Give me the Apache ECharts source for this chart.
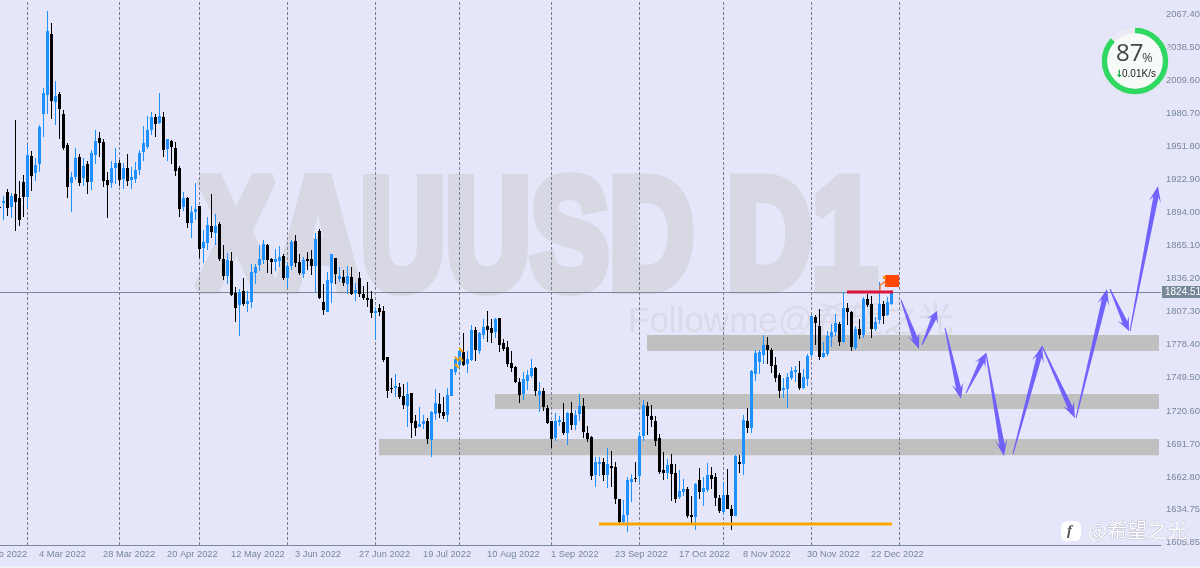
<!DOCTYPE html>
<html><head><meta charset="utf-8">
<style>html,body{margin:0;padding:0;background:#e6e6fa;overflow:hidden}#c{width:1200px;height:568px}</style>
<script src="https://cdn.jsdelivr.net/npm/echarts@6/dist/echarts.min.js"></script>
</head><body><div id="c"></div>
<script>
const opens=[1898.6,
1902.3,1911.9,1898.8,1910.1,1906.6,1920.6,1907.5,1943.3,1928.5,1936.3,
1980.0,1996.6,2049.9,1990.5,1997.5,1980.0,1952.9,1919.8,1925.0,1942.5,
1924.1,1936.3,1920.6,1944.2,1959.1,1955.6,1922.4,1919.8,1932.9,1937.2,
1923.2,1932.9,1922.4,1923.2,1931.1,1946.8,1951.2,1966.1,1977.4,1972.2,
1977.4,1949.5,1956.5,1950.3,1932.9,1898.8,1906.6,1884.8,1894.4,1899.6,
1863.0,1867.3,1882.2,1876.1,1883.9,1853.4,1838.5,1851.6,1823.6,1813.2,
1825.4,1814.0,1815.8,1841.1,1848.1,1852.5,1865.6,1853.3,1850.7,1851.6,
1856.0,1836.8,1847.2,1869.1,1850.7,1840.2,1853.3,1853.3,1847.2,1877.8,
1815.8,1807.0,1832.4,1854.2,1835.9,1837.6,1831.5,1837.6,1823.6,1836.8,
1822.8,1819.3,1818.4,1806.2,1810.5,1807.9,1767.7,1740.7,1740.7,1741.5,
1733.7,1724.9,1736.3,1711.8,1706.6,1709.2,1711.8,1695.2,1717.9,1726.7,
1719.7,1717.1,1733.7,1754.6,1760.7,1772.1,1761.6,1765.1,1791.3,1773.0,
1787.0,1794.8,1793.1,1789.6,1801.8,1779.9,1776.4,1762.5,1759.0,1745.9,
1735.4,1746.8,1751.1,1758.1,1734.5,1738.0,1723.2,1711.8,1697.0,1710.9,
1710.9,1701.3,1718.8,1708.3,1717.9,1724.9,1701.3,1697.8,1664.7,1674.2,
1676.0,1664.7,1672.5,1671.6,1643.7,1623.6,1629.7,1658.5,1662.0,1663.8,
1698.7,1724.9,1716.2,1711.8,1697.0,1669.0,1666.4,1674.2,1666.4,1645.4,
1649.8,1652.4,1629.7,1627.9,1660.3,1649.8,1651.5,1664.6,1662.9,1644.5,
1632.3,1647.2,1634.9,1628.8,1676.0,1674.2,1711.8,1705.7,1752.9,1763.4,
1769.5,1778.2,1773.8,1760.7,1752.0,1738.9,1739.8,1749.4,1754.6,1753.8,
1740.6,1748.5,1769.5,1802.7,1794.8,1767.7,1770.4,1785.2,1789.6,1796.6,
1780.8,1810.5,1807.1,1775.6,1792.2,1787.0,1818.4,1814.0,1792.2,1800.1,
1814.0,1804.4,1814.0];
const closes=[1898.4,
1904.0,1897.9,1908.4,1903.1,1887.4,1907.5,1944.2,1925.9,1935.5,1968.7,
1998.4,2052.5,1991.4,1995.8,1984.4,1950.3,1916.3,1925.0,1941.6,1919.8,
1934.6,1920.6,1946.0,1956.5,1954.7,1921.5,1918.0,1932.9,1937.2,1922.4,
1932.9,1921.5,1925.0,1931.1,1946.0,1954.7,1966.1,1977.4,1971.3,1978.3,
1948.6,1958.2,1951.2,1930.2,1897.0,1906.6,1884.8,1894.4,1897.0,1862.1,
1868.2,1883.1,1876.9,1882.2,1853.4,1838.5,1852.5,1821.9,1810.5,1824.5,
1814.0,1816.6,1842.0,1846.4,1853.3,1866.5,1852.5,1850.7,1853.3,1855.1,
1836.8,1847.2,1868.2,1849.9,1841.1,1852.5,1851.6,1847.2,1870.8,1819.3,
1808.8,1835.0,1857.7,1840.2,1838.5,1832.4,1838.5,1822.8,1826.3,1822.8,
1819.3,1817.5,1806.2,1807.9,1807.0,1765.1,1738.0,1739.8,1742.4,1732.8,
1725.8,1735.4,1710.1,1705.7,1709.2,1711.8,1696.1,1719.7,1727.5,1718.8,
1716.2,1734.5,1757.2,1766.0,1773.0,1760.7,1766.0,1791.3,1773.8,1788.7,
1793.9,1791.3,1788.7,1800.9,1778.2,1774.7,1761.6,1758.1,1745.9,1734.5,
1748.5,1752.0,1758.1,1738.0,1738.0,1724.0,1710.1,1696.1,1711.8,1712.7,
1701.3,1718.8,1708.3,1717.1,1724.9,1702.2,1696.1,1663.8,1676.0,1676.0,
1664.7,1674.2,1670.8,1643.7,1623.6,1629.7,1660.3,1661.1,1661.1,1698.7,
1725.8,1716.2,1712.7,1694.3,1667.3,1666.4,1673.4,1665.5,1643.7,1650.7,
1652.4,1628.8,1627.9,1656.8,1649.8,1653.3,1664.6,1661.1,1644.5,1633.2,
1647.2,1634.9,1628.8,1681.2,1674.2,1712.7,1705.7,1755.5,1771.2,1772.1,
1778.2,1773.8,1759.9,1749.4,1738.0,1740.6,1750.3,1755.5,1756.4,1740.6,
1750.3,1768.6,1803.6,1797.4,1767.7,1771.2,1786.1,1789.6,1797.4,1780.8,
1810.5,1807.1,1776.5,1792.2,1787.0,1818.4,1813.2,1792.2,1798.3,1814.0,
1803.6,1815.8,1824.5];
const lows=[1898.3,
1887.4,1890.9,1889.2,1877.8,1882.2,1890.0,1897.9,1912.8,1921.5,1929.4,
1959.9,1980.0,1975.7,1970.4,1958.2,1948.6,1906.6,1894.4,1922.4,1917.1,
1917.1,1910.1,1913.6,1936.3,1942.5,1916.3,1889.2,1915.4,1918.9,1917.1,
1914.5,1917.1,1914.5,1919.8,1926.7,1939.0,1949.5,1961.7,1959.9,1971.3,
1942.5,1939.0,1936.3,1925.9,1890.0,1895.3,1880.4,1871.7,1887.4,1854.2,
1849.9,1861.2,1871.7,1865.6,1851.6,1835.0,1831.5,1821.0,1798.3,1786.1,
1812.3,1807.0,1810.5,1831.5,1842.9,1849.0,1841.1,1840.2,1842.9,1846.4,
1835.0,1828.0,1843.7,1846.4,1839.4,1836.8,1843.7,1839.4,1824.5,1818.4,
1804.4,1807.0,1814.9,1831.5,1833.3,1829.8,1822.8,1821.9,1816.6,1820.1,
1817.5,1811.4,1801.8,1782.6,1803.5,1763.4,1731.9,1736.3,1732.8,1731.0,
1722.3,1706.6,1697.0,1698.7,1706.6,1704.8,1691.7,1680.4,1712.7,1714.4,
1713.6,1710.9,1733.7,1752.0,1757.2,1759.9,1753.7,1764.2,1764.2,1770.4,
1783.4,1780.8,1779.9,1784.3,1772.1,1773.0,1759.0,1754.6,1745.0,1727.5,
1730.2,1738.9,1749.4,1733.7,1719.7,1720.5,1709.2,1688.2,1694.3,1707.4,
1699.6,1690.8,1703.9,1703.9,1711.8,1697.0,1693.5,1660.3,1654.2,1663.8,
1659.4,1653.3,1654.2,1639.3,1622.7,1622.7,1614.8,1641.0,1658.5,1657.6,
1694.3,1699.6,1706.6,1690.0,1665.5,1660.3,1661.1,1641.9,1640.2,1643.7,
1646.3,1627.1,1622.7,1616.6,1643.7,1637.6,1649.8,1652.4,1637.6,1631.4,
1629.7,1634.9,1616.6,1628.8,1666.4,1664.6,1701.3,1701.3,1746.8,1752.9,
1761.6,1761.6,1753.8,1745.9,1731.9,1731.9,1723.2,1747.6,1745.9,1738.9,
1739.8,1742.4,1767.7,1778.2,1765.1,1766.9,1768.6,1776.5,1786.1,1777.3,
1780.0,1795.7,1773.0,1773.8,1783.5,1784.3,1811.4,1784.3,1790.5,1796.6,
1796.6,1803.6,1813.2];
const highs=[1898.7,
1908.4,1914.2,1910.7,1974.8,1921.2,1926.7,1952.7,1947.7,1941.6,1970.4,
2002.7,2070.0,2059.5,2008.9,1999.3,1983.5,1954.7,1929.4,1950.3,1945.1,
1941.3,1939.0,1948.6,1966.1,1964.3,1958.2,1929.4,1939.0,1950.3,1939.8,
1937.2,1945.1,1933.7,1938.1,1948.6,1969.5,1978.3,1981.8,1980.0,1998.4,
1981.8,1958.2,1957.3,1955.6,1934.6,1911.9,1907.5,1899.6,1919.8,1899.6,
1878.7,1890.0,1910.1,1892.7,1885.7,1865.6,1858.6,1859.5,1828.9,1827.1,
1836.7,1825.4,1849.0,1849.0,1865.6,1869.9,1866.5,1854.2,1862.1,1864.7,
1857.7,1849.9,1869.9,1874.3,1857.7,1855.1,1859.5,1861.2,1876.1,1879.6,
1831.5,1842.0,1857.7,1854.2,1846.4,1843.7,1847.2,1846.4,1832.4,1842.0,
1829.8,1833.3,1825.4,1811.4,1814.0,1812.3,1767.7,1749.4,1752.9,1745.0,
1744.1,1745.9,1736.3,1717.1,1724.0,1717.1,1714.4,1720.6,1739.8,1736.3,
1732.8,1740.7,1757.2,1768.6,1776.4,1788.7,1773.0,1795.7,1793.9,1789.6,
1800.9,1807.9,1800.9,1801.8,1801.8,1783.4,1781.7,1773.0,1759.9,1749.4,
1754.6,1756.4,1766.0,1759.0,1745.9,1740.6,1725.8,1711.8,1718.8,1716.2,
1727.5,1719.7,1728.4,1721.4,1735.4,1731.9,1707.4,1698.7,1680.4,1680.4,
1679.5,1688.2,1685.6,1676.0,1643.7,1642.8,1662.9,1665.5,1676.0,1702.2,
1730.2,1728.4,1725.8,1716.2,1700.5,1684.7,1678.6,1683.0,1674.2,1669.0,
1661.1,1654.2,1646.3,1657.6,1670.7,1662.9,1675.1,1671.6,1666.4,1647.2,
1658.5,1669.9,1638.4,1682.1,1682.1,1717.1,1723.2,1756.4,1773.8,1773.8,
1787.0,1785.2,1775.6,1767.7,1753.8,1749.4,1753.8,1759.0,1759.9,1764.2,
1757.3,1770.4,1804.4,1804.4,1809.7,1780.8,1790.5,1796.6,1805.3,1798.3,
1824.5,1814.9,1807.9,1794.8,1800.9,1820.2,1822.8,1821.0,1802.7,1833.3,
1816.7,1820.2,1826.3];

const tickLabels=['10 Feb 2022','4 Mar 2022','28 Mar 2022','20 Apr 2022','12 May 2022','3 Jun 2022','27 Jun 2022','19 Jul 2022','10 Aug 2022','1 Sep 2022','23 Sep 2022','17 Oct 2022','8 Nov 2022','30 Nov 2022','22 Dec 2022'];
const priceTicks=[2067.40,2038.50,2009.60,1980.70,1951.80,1922.90,1894.00,1865.10,1836.20,1807.30,1778.40,1749.50,1720.60,1691.70,1662.80,1634.75,1605.85];
const separators=[13,36,56,78,100,121,144,166,187,209,231];
const lastPrice=1824.51;
const zoneStart=[168,130,101], zoneEnd=[296,296,296];
const zoneTop=[1786.9,1735.4,1696.1], zoneBottom=[1773.0,1722.3,1681.9];
const arrowFromX=[231.5,236.75,242.5,247.75,252.75,259.5,266.75,275.25,283.75,288.75];
const arrowFromY=[1817.5,1778.2,1793.1,1736.2,1771.2,1683.0,1777.3,1714.4,1827.1,1790.4];
const arrowToX=[236,240.5,246.5,252.75,257.25,266.75,275,283,288.5,295.75];
const arrowToY=[1774.7,1807.9,1731.0,1771.2,1681.2,1777.3,1714.4,1827.1,1790.4,1917.1];
const redX=[218,229.5], redY=[1824.5,1824.5];
const orangeX=[156,229.25], orangeY=[1621.8,1621.8];
const tickX=[120.5,120.5,121.5,121.5], tickY=[1766.0,1759.9,1773.8,1766.0];

const BAND_COUNT=297, TICK_STEP=16, LEADING=6;
const categories=Array.from({length:BAND_COUNT},(_,k)=>k%TICK_STEP===0&&tickLabels[k/TICK_STEP]?tickLabels[k/TICK_STEP]:'');
const candles=opens.map((o,i)=>[i+LEADING,o,closes[i],lows[i],highs[i]]);
const showTick=(i,v)=>v!=='';
const arrows=arrowFromX.map((x,i)=>[x,arrowFromY[i],arrowToX[i],arrowToY[i]]);
const smallTicks=tickX.map((x,i)=>[x,tickY[i]]);
const zip=(a,b)=>a.map((x,i)=>[x,b[i]]);
const AXIS='#778899';

const renderCandle=(p,api)=>{
 const k=api.value(0),o=api.value(1),c=api.value(2),l=api.value(3),h=api.value(4);
 const x=Math.round(api.coord([k,o])[0]);
 const yo=api.coord([k,o])[1],yc=api.coord([k,c])[1];
 const yTop=Math.round(Math.min(yo,yc)),yBot=Math.round(Math.max(yo,yc));
 const yh=Math.round(api.coord([k,h])[1]),yl=Math.round(api.coord([k,l])[1]);
 const fill=c>=o?'#1e90ff':'#000';
 return {type:'group',children:[
  {type:'rect',shape:{x:x,y:yh,width:1,height:Math.max(yl-yh,1)},style:{fill}},
  {type:'rect',shape:{x:x-1,y:yTop,width:3,height:Math.max(yBot-yTop,1)},style:{fill}}]};
};

const chart=echarts.init(document.getElementById('c'),null,{renderer:'canvas'});
chart.setOption({
 animation:false,backgroundColor:'#e6e6fa',
 grid:{left:-27,top:0,width:1188,height:545,containLabel:false,outerBoundsMode:'none'},
 xAxis:[{type:'category',data:categories,boundaryGap:true,
   axisLine:{lineStyle:{color:AXIS,width:1}},
   axisTick:{alignWithLabel:true,interval:showTick,length:3,lineStyle:{color:AXIS}},
   axisLabel:{interval:showTick,align:'left',color:AXIS,fontFamily:'Liberation Sans',fontSize:9.3,margin:5,hideOverlap:false},
   splitLine:{show:false}},
  {type:'value',min:-0.5,max:296.5,show:false,splitLine:{show:false}}],
 yAxis:{type:'value',position:'right',offset:-1,min:1603.5,max:2079.63,scale:true,
   axisLine:{show:true,lineStyle:{color:AXIS,width:1}},
   axisTick:{show:true,length:3,lineStyle:{color:AXIS},customValues:priceTicks},
   axisLabel:{customValues:priceTicks,color:AXIS,fontFamily:'Liberation Sans',fontSize:9.4,margin:6,formatter:v=>v.toFixed(2)},
   splitLine:{show:false}},
 graphic:{elements:[
  {type:'text',z:0,silent:true,x:197,y:165,scaleX:0.745,scaleY:1,
   style:{text:'XAUUSD D1',font:'bold 158px "Liberation Sans"',fill:'#d8d8e4',stroke:'#d8d8e4',lineWidth:12,lineJoin:'round',textAlign:'left'}},
  {type:'text',z:0,silent:true,x:628,y:322,
   style:{text:'Followme@希望之光',font:'35px "Liberation Sans","Noto Sans CJK SC"',fill:'#dadae8',verticalAlign:'middle'}},
  {type:'rect',z:20,silent:true,shape:{x:885,y:275,width:14,height:12},style:{fill:'#ff4500'}},
  {type:'polyline',z:20,silent:true,shape:{points:[[880,291],[880,285],[885,282],[888,287]]},style:{stroke:'#ff6a20',lineWidth:1.3,fill:'none'}},
  {type:'rect',z:20,silent:true,shape:{x:883,y:276,width:3,height:3},style:{fill:'#ff8c00'}},
  {type:'circle',z:20,silent:true,shape:{cx:1135,cy:61,r:37},style:{fill:'rgba(228,228,246,0.7)'}},
  {type:'circle',z:21,silent:true,shape:{cx:1135,cy:61,r:30.5},style:{fill:'#ecebf5',stroke:'#ecebf5',lineWidth:5}},
  {type:'arc',z:22,silent:true,shape:{cx:1135,cy:61,r:30.5,startAngle:-Math.PI/2,endAngle:-Math.PI/2+0.87*2*Math.PI,clockwise:true},style:{stroke:'#2fd860',lineWidth:5.5,fill:'none'}},
  {type:'circle',z:23,silent:true,shape:{cx:1135,cy:61,r:27.5},style:{fill:'#f6fbf7'}},
  {type:'text',z:24,silent:true,x:1116,y:54,style:{text:'87',font:'24px "Open Sans"',fill:'#444',verticalAlign:'middle'}},
  {type:'text',z:24,silent:true,x:1142,y:58,style:{text:'%',font:'13px "Open Sans"',fill:'#444',verticalAlign:'middle'}},
  {type:'text',z:24,silent:true,x:1115,y:74,style:{text:'↓',font:'bold 10px "DejaVu Sans"',fill:'#10a040',verticalAlign:'middle'}},
  {type:'text',z:24,silent:true,x:1122,y:74,style:{text:'0.01K/s',font:'10px "Liberation Sans"',fill:'#222',verticalAlign:'middle'}},
  {type:'rect',z:24,silent:true,shape:{x:1061,y:521,width:20,height:20,r:6},style:{fill:'#fff'}},
  {type:'polygon',z:24,silent:true,shape:{points:[[1066,539],[1071,539],[1066,543]]},style:{fill:'#fff'}},
  {type:'text',z:25,silent:true,x:1067,y:531,style:{text:'f',font:'italic bold 15px "Liberation Serif"',fill:'#555',verticalAlign:'middle'}},
  {type:'text',z:24,silent:true,x:1088,y:530,style:{text:'@希望之光',font:'20px "Noto Sans CJK SC"',fill:'#fff',stroke:'#9a9aa8',lineWidth:0.5,verticalAlign:'middle'}},
  {type:'rect',z:0,silent:true,shape:{x:0,y:566.5,width:1200,height:2},style:{fill:'#f4f4f8'}}
 ]},
 series:[
  {type:'custom',name:'XAUUSD',data:candles,z:3,silent:true,clip:false,encode:{x:0,y:[1,2,3,4]},renderItem:renderCandle,
   markArea:{silent:true,z:1,itemStyle:{color:'#c0c0c0',opacity:1},
    data:zoneStart.map((s,i)=>[{xAxis:s,yAxis:zoneTop[i]},{xAxis:zoneEnd[i],yAxis:zoneBottom[i]}])},
   markLine:{silent:true,z:2,symbol:'none',animation:false,
    data:separators.map(s=>({xAxis:s,lineStyle:{color:'#7a7e90',type:[3,2],width:1},label:{show:false}}))
     .concat([{yAxis:lastPrice,lineStyle:{color:AXIS,type:'solid',width:1},
       label:{show:true,position:'end',distance:1,formatter:()=>lastPrice.toFixed(2),backgroundColor:AXIS,color:'#fff',padding:[1,2,1,3],fontFamily:'Liberation Sans',fontSize:10}}])}},
  {type:'line',xAxisIndex:1,data:zip(redX,redY),symbol:'none',z:6,lineStyle:{color:'#dc143c',width:3},silent:true},
  {type:'line',xAxisIndex:1,data:zip(orangeX,orangeY),symbol:'none',z:6,lineStyle:{color:'#ffa500',width:3},silent:true},
  {type:'custom',xAxisIndex:1,z:6,silent:true,data:smallTicks,encode:{x:0,y:1},
   renderItem:(p,api)=>{const c=api.coord([api.value(0),api.value(1)]);
    return {type:'line',shape:{x1:c[0]-2,y1:c[1]-2,x2:c[0]+2,y2:c[1]+2},style:{stroke:'#ffa500',lineWidth:2}};}},
  {type:'custom',xAxisIndex:1,z:7,silent:true,data:arrows,encode:{x:[0,2],y:[1,3]},
   renderItem:(p,api)=>{
    const a=api.coord([api.value(0),api.value(1)]),b=api.coord([api.value(2),api.value(3)]);
    const dx=b[0]-a[0],dy=b[1]-a[1],len=Math.hypot(dx,dy),ux=dx/len,uy=dy/len,nx=-uy,ny=ux;
    const H=Math.min(16,len*0.3),W=6,S=2.6;
    const at=(d,w)=>[b[0]-ux*d+nx*w,b[1]-uy*d+ny*w];
    const pts=[[a[0]+nx*0.5,a[1]+ny*0.5],at(H*0.7,S),at(H,W),b,at(H,-W),at(H*0.7,-S),[a[0]-nx*0.5,a[1]-ny*0.5]];
    return {type:'polygon',shape:{points:pts},style:{fill:'rgba(104,88,255,0.92)'}};}}
 ]
});
</script></body></html>
